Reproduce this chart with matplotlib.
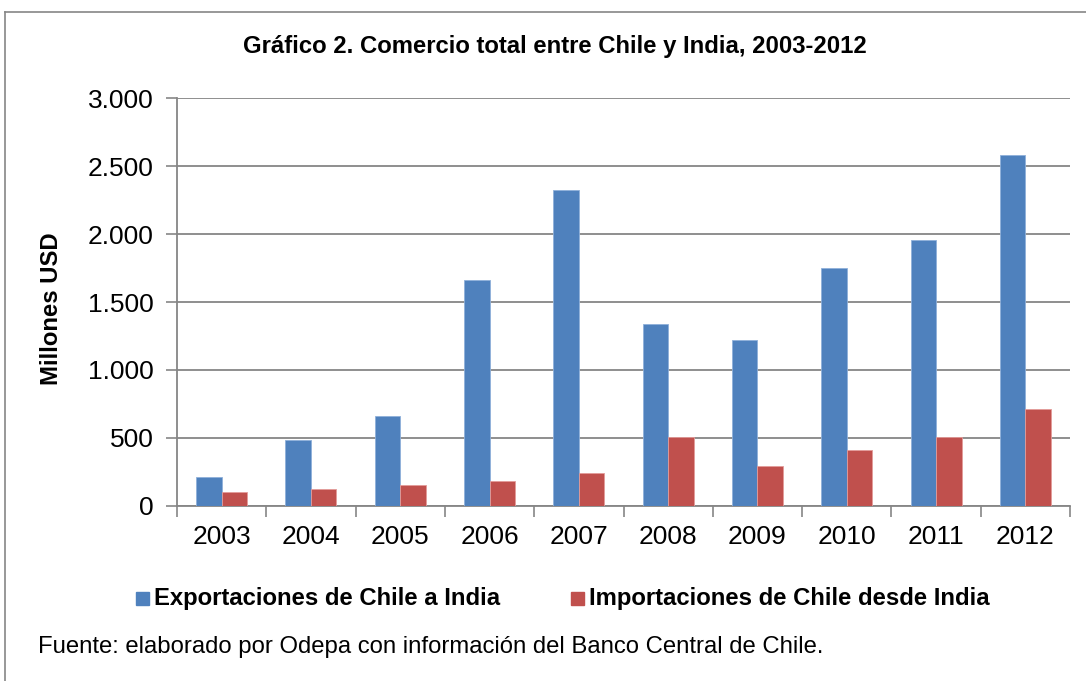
import matplotlib
matplotlib.use("Agg")
import matplotlib.pyplot as plt
import numpy as np
from matplotlib.ticker import FuncFormatter
from matplotlib.lines import Line2D
from matplotlib.patches import Rectangle

years = ["2003", "2004", "2005", "2006", "2007", "2008", "2009", "2010", "2011", "2012"]
exportaciones = [209, 481, 657, 1660, 2324, 1341, 1223, 1748, 1954, 2585]
importaciones = [101, 120, 150, 184, 240, 505, 292, 412, 505, 713]
series_names = ["Exportaciones de Chile a India", "Importaciones de Chile desde India"]
title = "Gráfico 2. Comercio total entre Chile y India, 2003-2012"
ylabel = "Millones USD"
source = "Fuente: elaborado por Odepa con información del Banco Central de Chile."

plt.rcParams['font.family'] = ['Liberation Sans', 'DejaVu Sans']

W, H = 1086, 681
fig = plt.figure(figsize=(W / 100, H / 100), dpi=100)
fig.patch.set_facecolor("white")

# frame (left and top visible)
fig.add_artist(Line2D([5 / W, 5 / W], [0, 1 - 11.5 / H], color="#868686", lw=1.2, transform=fig.transFigure))
fig.add_artist(Line2D([5 / W, 1], [1 - 11.5 / H, 1 - 11.5 / H], color="#868686", lw=1.2, transform=fig.transFigure))

ax = fig.add_axes([177 / W, 1 - 505.7 / H, (1070 - 177) / W, (505.7 - 98.3) / H])

blue = "#4F81BD"
red = "#C0504D"
x = np.arange(len(years))
bw = 0.2857
ax.bar(x - bw / 2, exportaciones, width=bw, color=blue, edgecolor="#8FB0DA", linewidth=0.6, zorder=3)
ax.bar(x + bw / 2, importaciones, width=bw, color=red, edgecolor="#E39C9A", linewidth=0.6, zorder=3)

ax.set_xlim(-0.5, len(years) - 0.5)
ax.set_ylim(0, 3000)
ax.set_yticks(np.arange(0, 3001, 500))
ax.yaxis.set_major_formatter(FuncFormatter(lambda v, p: f"{int(v):,}".replace(",", ".")))
ax.set_xticks(x)
ax.set_xticklabels(years)
ax.set_xticks(np.arange(-0.5, len(years), 1), minor=True)
ax.tick_params(axis="x", which="major", length=0, labelsize=19, pad=14)
ax.tick_params(axis="x", which="minor", length=8, width=1.2, color="#868686", direction="out")
ax.tick_params(axis="y", length=8, width=1.2, color="#868686", direction="out", labelsize=19, pad=9)

ax.grid(axis="y", color="#868686", linewidth=1.3, zorder=0)
for s in ["top", "right"]:
    ax.spines[s].set_visible(False)
for s in ["left", "bottom"]:
    ax.spines[s].set_color("#868686")
    ax.spines[s].set_linewidth(1.3)

fig.text(554.5 / W, 1 - 47 / H, title, ha="center", va="center", fontsize=17.2, fontweight="bold")
fig.text(52 / W, 1 - 309 / H, ylabel, ha="center", va="center", rotation=90, fontsize=17.2, fontweight="bold")

# legend
ly = 1 - 598 / H
for sx, tx, col, name in [(136, 154, blue, series_names[0]), (571, 589, red, series_names[1])]:
    fig.add_artist(Rectangle((sx / W, ly - 6.5 / H), 13 / W, 13 / H, color=col, transform=fig.transFigure))
    fig.text(tx / W, ly, name, ha="left", va="center", fontsize=17.2, fontweight="bold")

fig.text(38 / W, 1 - 647 / H, source, ha="left", va="center", fontsize=17.2)

fig.savefig("out.png", dpi=100)
